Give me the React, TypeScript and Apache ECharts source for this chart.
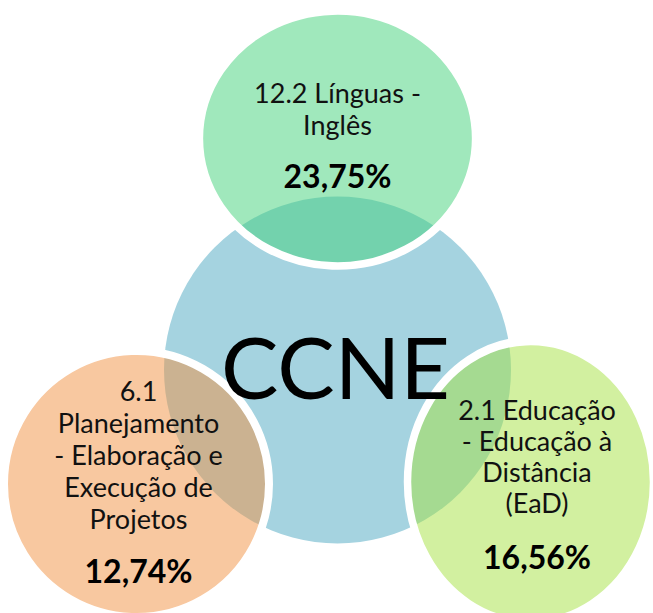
import React, { useEffect, useRef } from "react";
import * as echarts from "echarts";

// ---- data ----
const centerLabel = "CCNE";
const topicNames = [
  ["12.2 Línguas -", "Inglês"],
  ["6.1", "Planejamento", "- Elaboração e", "Execução de", "Projetos"],
  ["2.1 Educação", "- Educação à", "Distância", "(EaD)"],
];
const topicShares = [23.75, 12.74, 16.56];

// ---- layout (pixel space of the 653x613 canvas) ----
const nodeX = [337.5, 337.5, 136.5, 530.5];
const nodeY = [370, 138.5, 484, 482];
const nodeW = [347, 277, 265, 246];
const nodeH = [347, 255, 266, 282];
const nodeColors = [
  "#A5D3E0",
  "rgba(65,209,121,0.5)",
  "rgba(241,145,65,0.5)",
  "rgba(165,225,65,0.5)",
];
const labelOffsets = [
  [-2, -5],
  [0, 4.5],
  [2, 6.5],
  [6.5, 12],
];
const nameLineHeights = [0, 32, 32, 31];
const shareLineHeights = [0, 70, 72, 77];

const FONT = "Lato, 'Noto Sans', sans-serif";

function fmtShare(v: number) {
  return v.toFixed(2).replace(".", ",") + "%";
}

export default function App() {
  const ref = useRef<HTMLDivElement>(null);
  useEffect(() => {
    if (!ref.current) return;
    const chart = echarts.init(ref.current, undefined, { renderer: "svg" });

    const data: any[] = [];
    data.push({
      value: [nodeX[0], nodeY[0]],
      symbolSize: [nodeW[0], nodeH[0]],
      itemStyle: { color: nodeColors[0], borderWidth: 0, opacity: 1 },
      label: {
        show: true,
        position: "inside",
        offset: labelOffsets[0],
        formatter: "{c|" + centerLabel + "}",
        rich: {
          c: { fontFamily: FONT, fontSize: 86, color: "#000", align: "center" },
        },
      },
    });
    topicNames.forEach((lines, i) => {
      const k = i + 1;
      const fmt =
        lines.map((l) => "{n|" + l + "}").join("\n") +
        "\n{p|" + fmtShare(topicShares[i]) + "}";
      data.push({
        value: [nodeX[k], nodeY[k]],
        symbolSize: [nodeW[k], nodeH[k]],
        itemStyle: { color: nodeColors[k], borderColor: "#ffffff", borderWidth: 8, opacity: 1 },
        label: {
          show: true,
          position: "inside",
          offset: labelOffsets[k],
          align: "center",
          formatter: fmt,
          rich: {
            n: {
              fontFamily: FONT,
              fontSize: 27,
              lineHeight: nameLineHeights[k],
              color: "#111",
              align: "center",
            },
            p: {
              fontFamily: FONT,
              fontSize: 32,
              fontWeight: "bold",
              lineHeight: shareLineHeights[k],
              color: "#000",
              align: "center",
            },
          },
        },
      });
    });

    chart.setOption({
      animation: false,
      grid: { left: 0, right: 0, top: 0, bottom: 0 },
      xAxis: { type: "value", min: 0, max: 653, show: false },
      yAxis: { type: "value", min: 0, max: 613, inverse: true, show: false },
      series: [
        {
          type: "scatter",
          symbol: "circle",
          clip: false,
          silent: true,
          itemStyle: { opacity: 1 },
          data,
        },
      ],
    });
    return () => chart.dispose();
  }, []);
  return (
    <div
      ref={ref}
      style={{ position: "fixed", left: 0, top: 0, width: 653, height: 613, background: "#fff" }}
    />
  );
}
